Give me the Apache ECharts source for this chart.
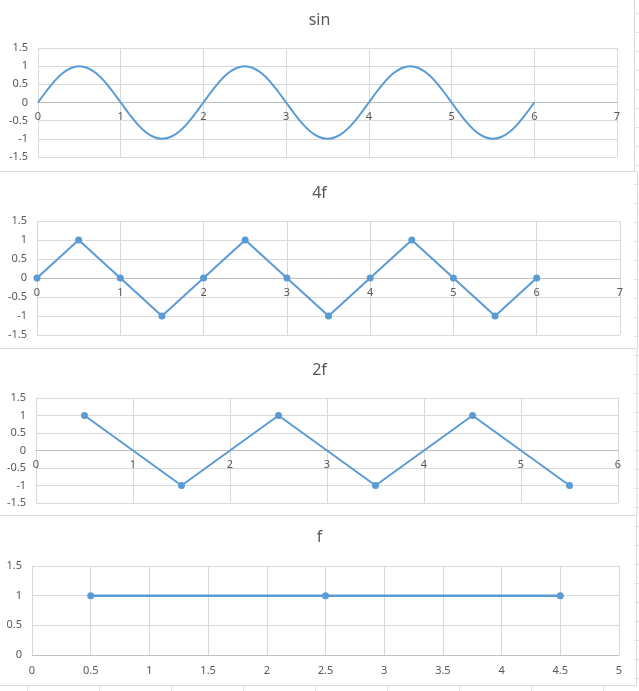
<!DOCTYPE html>
<html>
<head>
<meta charset="utf-8">
<script src="https://cdn.jsdelivr.net/npm/echarts@6/dist/echarts.min.js"></script>
<style>
html, body { margin: 0; padding: 0; background: #fff; }
#main { width: 639px; height: 691px; }
</style>
</head>
<body>
<div id="main"></div>
<script>
var chartDom = document.getElementById('main');
var myChart = echarts.init(chartDom);
var option;

// chart titles, top to bottom
var titles = ['sin', '4f', '2f', 'f'];

// sin: smooth curve
var sinX = [0, 0.1, 0.2, 0.3, 0.4, 0.5, 0.6, 0.7, 0.8, 0.9,
            1, 1.1, 1.2, 1.3, 1.4, 1.5, 1.6, 1.7, 1.8, 1.9,
            2, 2.1, 2.2, 2.3, 2.4, 2.5, 2.6, 2.7, 2.8, 2.9,
            3, 3.1, 3.2, 3.3, 3.4, 3.5, 3.6, 3.7, 3.8, 3.9,
            4, 4.1, 4.2, 4.3, 4.4, 4.5, 4.6, 4.7, 4.8, 4.9,
            5, 5.1, 5.2, 5.3, 5.4, 5.5, 5.6, 5.7, 5.8, 5.9, 6];
var sinY = [0, 0.31, 0.59, 0.81, 0.95, 1, 0.95, 0.81, 0.59, 0.31,
            0, -0.31, -0.59, -0.81, -0.95, -1, -0.95, -0.81, -0.59, -0.31,
            0, 0.31, 0.59, 0.81, 0.95, 1, 0.95, 0.81, 0.59, 0.31,
            0, -0.31, -0.59, -0.81, -0.95, -1, -0.95, -0.81, -0.59, -0.31,
            0, 0.31, 0.59, 0.81, 0.95, 1, 0.95, 0.81, 0.59, 0.31,
            0, -0.31, -0.59, -0.81, -0.95, -1, -0.95, -0.81, -0.59, -0.31, 0];

// 4f
var f4X = [0, 0.5, 1, 1.5, 2, 2.5, 3, 3.5, 4, 4.5, 5, 5.5, 6];
var f4Y = [0, 1, 0, -1, 0, 1, 0, -1, 0, 1, 0, -1, 0];

// 2f
var f2X = [0.5, 1.5, 2.5, 3.5, 4.5, 5.5];
var f2Y = [1, -1, 1, -1, 1, -1];

// f
var f1X = [0.5, 2.5, 4.5];
var f1Y = [1, 1, 1];

function pairs(xs, ys) {
    return xs.map(function (x, i) { return [x, ys[i]]; });
}

var blue = '#5b9bd5';
var gridColor = '#d9d9d9';
var textColor = '#595959';
var font = 'Noto Sans';

var grids = [
    { left: 38, top: 48, width: 579, height: 109 },
    { left: 37, top: 221, width: 583, height: 114 },
    { left: 36, top: 398, width: 582, height: 105 },
    { left: 32, top: 566, width: 587, height: 89 }
];
var yRanges = [[-1.5, 1.5], [-1.5, 1.5], [-1.5, 1.5], [0, 1.5]];

// x axis sits on y = 0 like in the sheet: shift it up from the grid bottom
function xAxisFor(idx, max, interval) {
    var r = yRanges[idx];
    var shift = -grids[idx].height * (0 - r[0]) / (r[1] - r[0]);
    return {
        type: 'value', gridIndex: idx, min: 0, max: max, interval: interval,
        position: 'bottom', offset: shift,
        axisLine: { show: true, onZero: false, lineStyle: { color: '#bfbfbf', width: 1 } },
        axisTick: { show: false },
        axisLabel: { color: textColor, fontSize: 11, fontFamily: font, margin: shift ? 9 : 10 },
        splitLine: { show: true, lineStyle: { color: gridColor, width: 1 } }
    };
}

function yAxisFor(idx) {
    return {
        type: 'value', gridIndex: idx, min: yRanges[idx][0], max: yRanges[idx][1], interval: 0.5,
        axisLine: { show: false },
        axisTick: { show: false },
        axisLabel: { color: textColor, fontSize: 11, fontFamily: font, margin: 10 },
        splitLine: { show: true, lineStyle: { color: gridColor, width: 1 } }
    };
}

var titleCenters = [21, 194, 371, 538];

// frame lines round each chart, plus the sheet cell edges peeking out
var frames = [];
var seps = [171.5, 348.5, 515.5, 685.5];
seps.forEach(function (y) {
    frames.push({ type: 'line', shape: { x1: 0, y1: y, x2: 637, y2: y }, style: { stroke: gridColor, lineWidth: 1 } });
});
var rights = [[634.5, 0, 171.5], [637.5, 171.5, 348.5], [637, 348.5, 515.5], [636.5, 515.5, 685.5]];
rights.forEach(function (r) {
    frames.push({ type: 'line', shape: { x1: r[0], y1: r[1], x2: r[0], y2: r[2] }, style: { stroke: gridColor, lineWidth: 1 } });
});
for (var ty = 13.5; ty < 691; ty += 19) {
    frames.push({ type: 'line', shape: { x1: 634, y1: ty, x2: 639, y2: ty }, style: { stroke: '#e3e3e3', lineWidth: 1 } });
}
for (var tx = 27.5; tx < 639; tx += 72) {
    frames.push({ type: 'line', shape: { x1: tx, y1: 686, x2: tx, y2: 691 }, style: { stroke: '#e3e3e3', lineWidth: 1 } });
}

option = {
    animation: false,
    backgroundColor: '#fff',
    title: titles.map(function (t, i) {
        return {
            text: t, left: 'center', top: titleCenters[i] - 9, padding: 0,
            textStyle: { color: textColor, fontSize: 16, fontWeight: 'normal', fontFamily: font }
        };
    }),
    graphic: frames,
    grid: grids,
    xAxis: [
        xAxisFor(0, 7, 1),
        xAxisFor(1, 7, 1),
        xAxisFor(2, 6, 1),
        xAxisFor(3, 5, 0.5)
    ],
    yAxis: [yAxisFor(0), yAxisFor(1), yAxisFor(2), yAxisFor(3)],
    series: [
        {
            name: 'sin', type: 'line', xAxisIndex: 0, yAxisIndex: 0,
            data: pairs(sinX, sinY), smooth: 0.4, showSymbol: false, symbol: 'none',
            lineStyle: { color: blue, width: 2 }
        },
        {
            name: '4f', type: 'line', xAxisIndex: 1, yAxisIndex: 1,
            data: pairs(f4X, f4Y), symbol: 'circle', symbolSize: 7,
            itemStyle: { color: blue }, lineStyle: { color: blue, width: 2 }
        },
        {
            name: '2f', type: 'line', xAxisIndex: 2, yAxisIndex: 2,
            data: pairs(f2X, f2Y), symbol: 'circle', symbolSize: 7,
            itemStyle: { color: blue }, lineStyle: { color: blue, width: 2 }
        },
        {
            name: 'f', type: 'line', xAxisIndex: 3, yAxisIndex: 3,
            data: pairs(f1X, f1Y), symbol: 'circle', symbolSize: 7,
            itemStyle: { color: blue }, lineStyle: { color: blue, width: 2.5 }
        }
    ]
};

option && myChart.setOption(option);
</script>
</body>
</html>
